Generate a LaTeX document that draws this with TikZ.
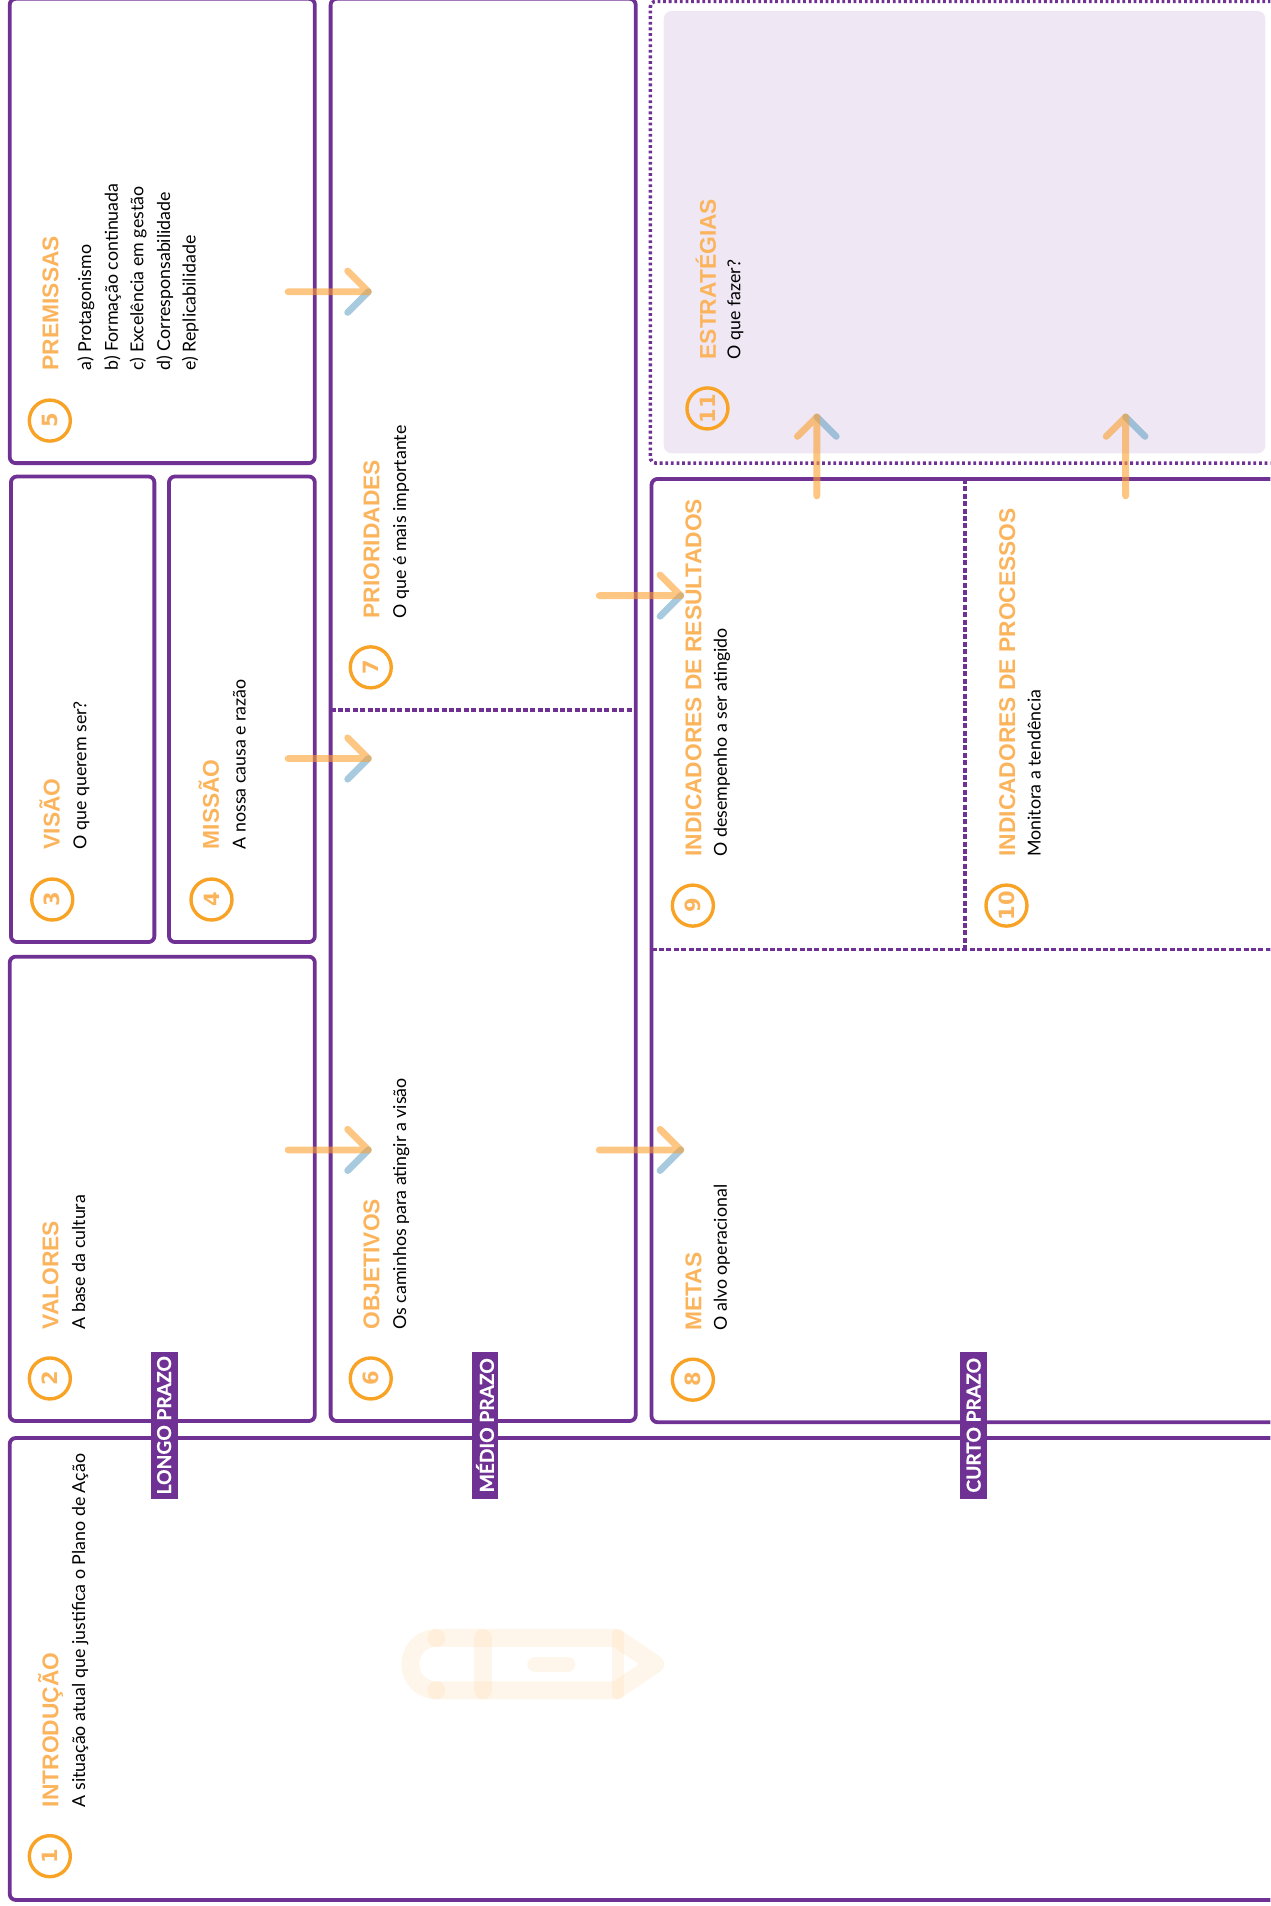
\documentclass[tikz,border=0pt]{standalone}
\usepackage{fontspec}
\usetikzlibrary{fit}
\setmainfont{Lato}
\newfontfamily\fontetitulo{Liberation Sans}
\newfontfamily\fontenumero{DejaVu Sans}
\newfontfamily\fonteprazo[BoldFeatures={FakeBold=0.5}]{Lato}
\definecolor{roxo}{HTML}{6F3193}
\definecolor{laranja}{HTML}{FBB45C}
\definecolor{anel}{HTML}{F9A326}
\definecolor{seta1}{HTML}{FBA030}
\definecolor{azul}{HTML}{5F9EC4}
\definecolor{lilas}{HTML}{EFE8F4}
\tikzset{caixa/.style={rectangle,draw=roxo,line width=1.9pt,rounded corners=3pt,inner sep=0},
	pontilhado/.style={draw=roxo,line width=1.8pt,dash pattern=on 1.4pt off 1.4pt},
	divisor/.style={draw=roxo,line width=1.7pt,dash pattern=on 2.5pt off 1.2pt},
	numero/.style={circle,draw=anel,line width=1.7pt,minimum size=20.5pt,inner sep=0,text=laranja,rotate=90,font=\fontenumero\bfseries\fontsize{10.5}{11}\selectfont},
	titulo/.style={rotate=90,anchor=base west,inner sep=0,text=laranja,font=\fontetitulo\bfseries\fontsize{11.4}{12}\selectfont},
	texto/.style={rotate=90,anchor=base west,inner sep=0,font=\fontsize{8.9}{10}\selectfont},
	prazo/.style={rectangle,fill=roxo,text=white,rotate=90,inner sep=0,minimum width=73.5pt,minimum height=13.4pt,font=\fonteprazo\bfseries\fontsize{9.6}{10}\selectfont},
	seta/.style={line width=3.4pt,line cap=round,line join=round,draw=seta1,opacity=.6},
	ponta/.style={line width=3.4pt,line cap=round,draw=azul,opacity=.55},
	traco/.style={line width=#1,line cap=round,line join=round,draw=laranja,opacity=.12} }

\begin{document}
\begin{tikzpicture}
	[x=0.6077pt,y=-0.6077pt]
  \path [use as bounding box, clip] (0,0) rectangle (1045,1568);

  % caixas
  \node (introducao) [caixa, fit={(8,1183) (1055,1563)}] {};
  \node (valores) [caixa, fit={(8,787) (259,1169)}] {};
  \node (visao) [caixa, fit={(9,392) (127,775)}] {};
  \node (missao) [caixa, fit={(139,392) (259,775)}] {};
  \node (premissas) [caixa, fit={(8,-1) (259,381)}] {};
  \node (medio) [caixa, fit={(272,-1) (523,1169)}] {};
  \node (curto) [caixa, fit={(536,394) (1055,1170)}] {};
  \node (fundo) [fill=lilas, rounded corners=4pt, inner sep=0, fit={(546,9) (1041,373)}] {};
  \node (estrategias) [pontilhado, rounded corners=3pt, inner sep=0, fit={(535,1) (1055,381)}] {};

  % divisores
  \coordinate (d1) at (272,584);
  \coordinate (d2) at (523,584);
  \coordinate (d3) at (536,781);
  \coordinate (d4) at (1055,781);
  \coordinate (d5) at (794,394);
  \coordinate (d6) at (794,781);
  \draw [divisor] (d1) -- (d2);
  \draw [divisor] (d3) -- (d4);
  \draw [divisor] (d5) -- (d6);

  % lapis
  \draw [traco=9pt] (359,1347.5) -- (507,1347.5) -- (539,1369) -- (507,1390.5) -- (359,1390.5);
  \draw [traco=9pt] (359,1347.5) .. controls (346,1347.5) and (337.5,1358) .. (337.5,1369) .. controls (337.5,1380) and (346,1390.5) .. (359,1390.5);
  \draw [traco=9pt] (397,1347.5) -- (397,1390.5);
  \draw [traco=6pt] (508,1345) -- (508,1393);
  \draw [traco=7.6pt] (440,1369) -- (467,1369);

  % numeros
  \node (n1) [numero] at (41,1527) {1};
  \node (n2) [numero] at (41,1134) {2};
  \node (n3) [numero] at (43,740) {3};
  \node (n4) [numero] at (174,740) {4};
  \node (n5) [numero] at (41,346) {5};
  \node (n6) [numero] at (305,1134) {6};
  \node (n7) [numero] at (305,549) {7};
  \node (n8) [numero] at (570,1135) {8};
  \node (n9) [numero] at (570,745) {9};
  \node (n10) [numero] at (828,745) {10};
  \node (n11) [numero] at (582,336) {11};

  % titulos
  \node (t1) [titulo] at (48,1487) {INTRODUÇÃO};
  \node (t2) [titulo] at (48,1094) {VALORES};
  \node (t3) [titulo] at (49,699) {VISÃO};
  \node (t4) [titulo] at (180,699) {MISSÃO};
  \node (t5) [titulo] at (48,305) {PREMISSAS};
  \node (t6) [titulo] at (312,1094) {OBJETIVOS};
  \node (t7) [titulo] at (312,509) {PRIORIDADES};
  \node (t8) [titulo] at (577,1095) {METAS};
  \node (t9) [titulo] at (577,705) {INDICADORES DE RESULTADOS};
  \node (t10) [titulo] at (835,705) {INDICADORES DE PROCESSOS};
  \node (t11) [titulo] at (589,296) {ESTRATÉGIAS};

  % textos
  \node (x1) [texto] at (70,1487) {A situação atual que justifica o Plano de Ação};
  \node (x2) [texto] at (70,1094) {A base da cultura};
  \node (x3) [texto] at (71,699) {O que querem ser?};
  \node (x4) [texto] at (202,699) {A nossa causa e razão};
  \node (x5a) [texto] at (75,305) {a) Protagonismo};
  \node (x5b) [texto] at (97,305) {b) Formação continuada};
  \node (x5c) [texto] at (118,305) {c) Excelência em gestão};
  \node (x5d) [texto] at (140,305) {d) Corresponsabilidade};
  \node (x5e) [texto] at (161,305) {e) Replicabilidade};
  \node (x6) [texto] at (334,1094) {Os caminhos para atingir a visão};
  \node (x7) [texto] at (334,509) {O que é mais importante};
  \node (x8) [texto] at (598,1095) {O alvo operacional};
  \node (x9) [texto] at (598,705) {O desempenho a ser atingido};
  \node (x10) [texto] at (856,705) {Monitora a tendência};
  \node (x11) [texto] at (609,296) {O que fazer?};

  % setas
  \coordinate (a1) at (237,240);
  \coordinate (b1) at (303,240);
  \coordinate (a2) at (237,624);
  \coordinate (b2) at (303,624);
  \coordinate (a3) at (237,946);
  \coordinate (b3) at (303,946);
  \coordinate (a4) at (493,490);
  \coordinate (b4) at (560,490);
  \coordinate (a5) at (493,946);
  \coordinate (b5) at (560,946);
  \coordinate (a6) at (672,408);
  \coordinate (b6) at (672,343);
  \coordinate (a7) at (926,408);
  \coordinate (b7) at (926,343);
  \foreach \s in {1,...,5} {
	\draw [ponta] (b\s) -- ++(-17,17);
	\draw [seta] (a\s) -- (b\s) -- ++(-17,-17);
  }
  \foreach \s in {6,7} {
	\draw [ponta] (b\s) -- ++(16,16);
	\draw [seta] (a\s) -- (b\s) -- ++(-16,16);
  }

  % prazos
  \node (longo) [prazo] at (135,1172.5) {LONGO PRAZO};
  \node (medioprazo) [prazo] at (399,1172.5) {MÉDIO PRAZO};
  \node (curtoprazo) [prazo] at (801,1172.5) {CURTO PRAZO};
\end{tikzpicture}
\end{document}
